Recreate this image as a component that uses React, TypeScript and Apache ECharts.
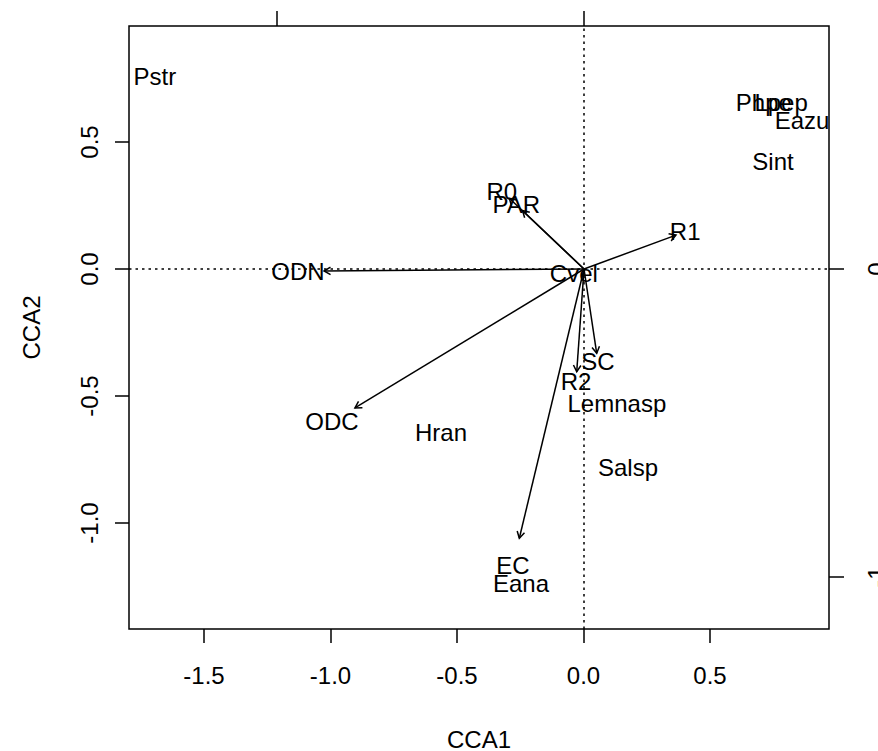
import React, { useEffect, useRef } from "react";
import * as echarts from "echarts";

// Species scores (CCA1, CCA2) — main axes (bottom / left)
const speciesNames = ["Pstr", "Phpe", "Lpep", "Eazu", "Sint", "Cvel", "Lemnasp", "Salsp", "Hran", "Eana"];
const speciesCCA1 = [-1.694, 0.713, 0.781, 0.864, 0.749, -0.038, 0.132, 0.176, -0.563, -0.247];
const speciesCCA2 = [0.756, 0.654, 0.654, 0.583, 0.425, -0.016, -0.531, -0.78, -0.642, -1.24];

// Biplot arrows — secondary axes (top / right)
const envNames = ["R0", "PAR", "R1", "ODN", "ODC", "EC", "SC", "R2"];
const envCCA1 = [-0.243, -0.2, 0.299, -0.8455, -0.745, -0.2104, 0.0413, -0.0237];
const envCCA2 = [0.2295, 0.19, 0.11, -0.0065, -0.451, -0.874, -0.2737, -0.3334];

// Axes
const xTicks = [-1.5, -1, -0.5, 0, 0.5];
const yTicks = [-1, -0.5, 0, 0.5];
const topTicks = [-1, 0];
const rightTicks = [-1, 0];
const xRange = [-1.7964, 0.9704];
const yRange = [-1.4173, 0.9567];
const topRange = [-1.4797, 0.7967];
const rightRange = [-1.1688, 0.789];
const labelMul = 1.1;

const FONT = '"Liberation Sans", Arial, sans-serif';
const INK = "#000";

export default function App() {
  const ref = useRef<HTMLDivElement>(null);

  useEffect(() => {
    document.body.style.margin = "0";
    if (!ref.current) return;
    const chart = echarts.init(ref.current, undefined, { renderer: "svg" });

    const tickStyle = { color: INK, width: 1.5 };
    const labelStyle = { fontSize: 24, color: INK, fontFamily: FONT };

    const option: any = {
      animation: false,
      backgroundColor: "#fff",
      grid: {
        left: 129,
        top: 26,
        width: 700,
        height: 603,
        outerBoundsMode: "none",
        containLabel: false,
        show: true,
        borderColor: INK,
        borderWidth: 1.5,
        backgroundColor: "transparent",
      },
      xAxis: [
        {
          type: "value",
          position: "bottom",
          min: xRange[0],
          max: xRange[1],
          axisLine: { show: false, onZero: false },
          splitLine: { show: false },
          axisTick: { show: true, inside: false, length: 14, lineStyle: tickStyle, customValues: xTicks },
          axisLabel: {
            ...labelStyle,
            customValues: xTicks,
            margin: 34,
            formatter: (v: number) => v.toFixed(1),
          },
          name: "CCA1",
          nameLocation: "middle",
          nameGap: 98,
          nameTextStyle: labelStyle,
        },
        {
          type: "value",
          position: "top",
          min: topRange[0],
          max: topRange[1],
          axisLine: { show: false, onZero: false },
          splitLine: { show: false },
          axisTick: { show: true, inside: false, length: 15, lineStyle: tickStyle, customValues: topTicks },
          axisLabel: { show: false, customValues: topTicks },
        },
      ],
      yAxis: [
        {
          type: "value",
          position: "left",
          min: yRange[0],
          max: yRange[1],
          axisLine: { show: false, onZero: false },
          splitLine: { show: false },
          axisTick: { show: true, inside: false, length: 14, lineStyle: tickStyle, customValues: yTicks },
          axisLabel: {
            ...labelStyle,
            customValues: yTicks,
            rotate: 90,
            margin: 28,
            formatter: (v: number) => v.toFixed(1),
          },
          name: "CCA2",
          nameLocation: "middle",
          nameRotate: 90,
          nameGap: 86,
          nameTextStyle: labelStyle,
        },
        {
          type: "value",
          position: "right",
          min: rightRange[0],
          max: rightRange[1],
          axisLine: { show: false, onZero: false },
          splitLine: { show: false },
          axisTick: { show: true, inside: false, length: 15, lineStyle: tickStyle, customValues: rightTicks },
          axisLabel: {
            ...labelStyle,
            customValues: rightTicks,
            rotate: 90,
            margin: 35,
            formatter: (v: number) => String(v),
          },
        },
      ],
      series: [
        {
          type: "scatter",
          xAxisIndex: 0,
          yAxisIndex: 0,
          symbolSize: 0,
          silent: true,
          data: speciesCCA1.map((v, i) => [v, speciesCCA2[i]]),
          markLine: {
            silent: true,
            symbol: "none",
            label: { show: false },
            lineStyle: { type: [2.5, 4], color: INK, width: 1.5 },
            data: [{ xAxis: 0 }, { yAxis: 0 }],
          },
        },
        {
          type: "custom",
          xAxisIndex: 0,
          yAxisIndex: 0,
          silent: true,
          data: speciesCCA1.map((v, i) => [v, speciesCCA2[i]]),
          renderItem: (params: any, api: any) => {
            const p = api.coord([api.value(0), api.value(1)]);
            return {
              type: "text",
              x: p[0],
              y: p[1],
              style: {
                text: speciesNames[params.dataIndex],
                align: "center",
                verticalAlign: "middle",
                fontSize: 24,
                fontFamily: FONT,
                fill: INK,
              },
            };
          },
        },
        {
          type: "custom",
          xAxisIndex: 1,
          yAxisIndex: 1,
          silent: true,
          data: envCCA1.map((v, i) => [v, envCCA2[i]]),
          renderItem: (params: any, api: any) => {
            const x = api.value(0);
            const y = api.value(1);
            const o = api.coord([0, 0]);
            const t = api.coord([x, y]);
            const l = api.coord([x * labelMul, y * labelMul]);
            const ang = Math.atan2(t[1] - o[1], t[0] - o[0]);
            const hl = 7.5;
            const ha = Math.PI / 6;
            const p1 = [t[0] - hl * Math.cos(ang - ha), t[1] - hl * Math.sin(ang - ha)];
            const p2 = [t[0] - hl * Math.cos(ang + ha), t[1] - hl * Math.sin(ang + ha)];
            return {
              type: "group",
              children: [
                {
                  type: "line",
                  shape: { x1: o[0], y1: o[1], x2: t[0], y2: t[1] },
                  style: { stroke: INK, lineWidth: 1.5 },
                },
                {
                  type: "polyline",
                  shape: { points: [p1, t, p2] },
                  style: { stroke: INK, lineWidth: 1.5, fill: null },
                },
                {
                  type: "text",
                  x: l[0],
                  y: l[1],
                  style: {
                    text: envNames[params.dataIndex],
                    align: "center",
                    verticalAlign: "middle",
                    fontSize: 24,
                    fontFamily: FONT,
                    fill: INK,
                  },
                },
              ],
            };
          },
        },
      ],
    };

    chart.setOption(option);
    return () => chart.dispose();
  }, []);

  return <div ref={ref} style={{ width: 878, height: 751, position: "absolute", left: 0, top: 0 }} />;
}
